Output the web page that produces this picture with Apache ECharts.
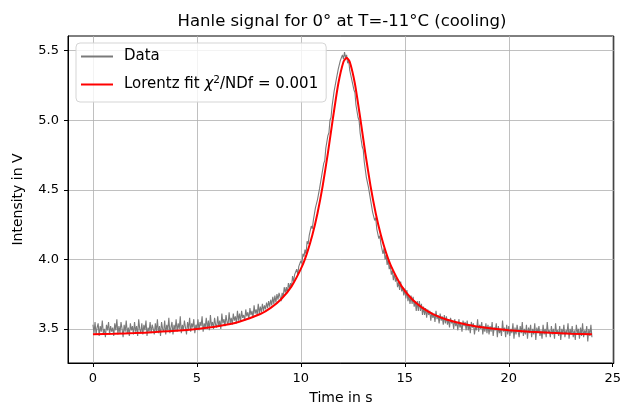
<!DOCTYPE html>
<html><head><meta charset="utf-8">
<script src="https://cdn.jsdelivr.net/npm/echarts@6/dist/echarts.min.js"></script>
<style>html,body{margin:0;padding:0;background:#fff}#c{width:624px;height:412px}</style>
</head><body><div id="c"></div>
<script>
// ---- data ----
const title = 'Hanle signal for 0° at T=-11°C (cooling)';
const xLabel = 'Time in s';
const yLabel = 'Intensity in V';
const xTicks = [0, 5, 10, 15, 20, 25];
const yTicks = [3.5, 4.0, 4.5, 5.0, 5.5];
const dataStart = 0.0;   // first sample time (s)
const dataStep = 0.05;   // sampling step (s)
const dataValues = [
3.53,3.47,3.55,3.46,3.51,3.54,3.45,3.52,3.48,3.56,3.47,3.50,3.44,3.53,3.49,3.55,3.46,3.52,3.48,3.51,
3.45,3.54,3.49,3.57,3.46,3.52,3.47,3.55,3.50,3.44,3.53,3.48,3.56,3.47,3.51,3.45,3.54,3.49,3.52,3.46,
3.55,3.48,3.52,3.45,3.57,3.50,3.47,3.54,3.46,3.53,3.49,3.56,3.45,3.51,3.48,3.55,3.47,3.53,3.50,3.46,
3.54,3.48,3.57,3.47,3.52,3.45,3.55,3.50,3.48,3.56,3.46,3.53,3.49,3.58,3.47,3.51,3.55,3.46,3.53,3.49,
3.57,3.48,3.54,3.50,3.59,3.47,3.53,3.49,3.56,3.51,3.46,3.55,3.50,3.58,3.48,3.54,3.51,3.57,3.47,3.53,
3.50,3.57,3.49,3.55,3.52,3.59,3.48,3.54,3.51,3.58,3.50,3.56,3.49,3.60,3.52,3.55,3.50,3.58,3.53,3.51,
3.59,3.52,3.56,3.50,3.61,3.54,3.57,3.52,3.60,3.55,3.53,3.62,3.54,3.58,3.53,3.61,3.56,3.59,3.54,3.63,
3.56,3.61,3.55,3.63,3.58,3.60,3.56,3.64,3.59,3.62,3.57,3.65,3.60,3.63,3.58,3.67,3.61,3.64,3.60,3.68,
3.61,3.66,3.62,3.68,3.63,3.67,3.64,3.69,3.65,3.70,3.66,3.71,3.67,3.73,3.68,3.74,3.69,3.75,3.71,3.76,
3.75,3.70,3.76,3.73,3.80,3.76,3.80,3.76,3.83,3.79,3.83,3.80,3.88,3.84,3.89,3.88,3.93,3.89,3.95,3.94,
3.99,3.97,4.04,4.02,4.07,4.04,4.13,4.11,4.17,4.16,4.24,4.22,4.28,4.28,4.37,4.36,4.43,4.43,4.51,4.52,
4.60,4.60,4.69,4.71,4.80,4.80,4.89,4.91,5.00,5.02,5.10,5.11,5.21,5.22,5.29,5.29,5.37,5.37,5.43,5.42,
5.47,5.44,5.49,5.45,5.47,5.41,5.43,5.36,5.36,5.29,5.30,5.22,5.20,5.11,5.10,5.02,5.00,4.91,4.90,4.81,
4.79,4.70,4.69,4.59,4.60,4.52,4.52,4.43,4.43,4.34,4.35,4.28,4.30,4.22,4.23,4.15,4.17,4.11,4.12,4.04,
4.08,4.00,4.03,3.96,4.00,3.93,3.96,3.89,3.92,3.85,3.90,3.84,3.87,3.80,3.84,3.78,3.84,3.77,3.80,3.74,
3.79,3.72,3.78,3.70,3.74,3.68,3.74,3.68,3.73,3.66,3.70,3.63,3.70,3.63,3.70,3.63,3.68,3.60,3.66,3.60,
3.65,3.58,3.64,3.60,3.63,3.56,3.62,3.58,3.61,3.55,3.63,3.57,3.60,3.54,3.61,3.56,3.59,3.53,3.60,3.54,
3.59,3.53,3.57,3.51,3.58,3.54,3.56,3.50,3.57,3.52,3.55,3.49,3.57,3.51,3.54,3.48,3.56,3.52,3.55,3.49,
3.56,3.49,3.53,3.47,3.55,3.51,3.54,3.46,3.52,3.49,3.57,3.48,3.53,3.50,3.55,3.46,3.52,3.48,3.54,3.47,
3.53,3.46,3.52,3.48,3.55,3.45,3.51,3.49,3.54,3.44,3.52,3.47,3.50,3.45,3.56,3.48,3.51,3.44,3.53,3.46,
3.52,3.45,3.50,3.47,3.54,3.43,3.51,3.46,3.53,3.48,3.44,3.52,3.47,3.55,3.45,3.50,3.46,3.53,3.43,3.51,
3.47,3.53,3.44,3.50,3.46,3.54,3.42,3.51,3.47,3.52,3.45,3.49,3.43,3.53,3.46,3.50,3.44,3.55,3.47,3.49,
3.44,3.52,3.46,3.50,3.43,3.54,3.47,3.49,3.45,3.52,3.42,3.50,3.46,3.53,3.44,3.49,3.47,3.54,3.43,3.50,
3.46,3.52,3.44,3.49,3.42,3.53,3.47,3.50,3.43,3.51,3.45,3.54,3.44,3.49,3.46,3.52,3.41,3.50,3.45,3.53,
3.44
];
const fitX = [0,1,2,3,4,5,6,7,8.05,8.55,9.05,9.55,10.05,10.3,10.55,10.8,11.05,11.3,11.55,11.8,12.05,12.2,12.35,12.6,12.85,13.1,13.35,13.6,13.85,14.1,14.35,14.85,15.35,15.85,16.35,17,18,19,20,21,22,23,24];
const fitY = [3.461,3.465,3.470,3.477,3.486,3.500,3.520,3.550,3.607,3.651,3.713,3.806,3.948,4.047,4.173,4.332,4.529,4.764,5.022,5.263,5.421,5.450,5.421,5.263,5.022,4.764,4.529,4.332,4.173,4.047,3.948,3.806,3.713,3.651,3.607,3.568,3.530,3.506,3.491,3.480,3.472,3.466,3.462];
const dataName = 'Data';
const fitName = 'Lorentz fit χ²/NDf = 0.001';

// ---- build ----
const dataPts = dataValues.map((v, i) => [+(dataStart + i * dataStep).toFixed(2), v]);
const fitPts = fitX.map((x, i) => [x, fitY[i]]);
const FONT = 'DejaVu Sans';
const gridCol = '#b0b0b0';

const chart = echarts.init(document.getElementById('c'), null, {renderer: 'canvas'});
chart.setOption({
  animation: false,
  backgroundColor: '#fff',
  title: {
    text: title, left: 337, top: 8, textAlign: 'center',
    textStyle: {fontFamily: FONT, fontSize: 16.5, fontWeight: 'normal', color: '#000'}
  },
  grid: {left: 68, right: 8, top: 36, bottom: 49, show: true, borderColor: '#000', borderWidth: 1, backgroundColor: 'transparent'},
  legend: {
    orient: 'vertical', left: 76, top: 43,
    backgroundColor: 'rgba(255,255,255,0.8)', borderColor: '#d5d5d5', borderWidth: 1, borderRadius: 4,
    padding: [6, 8, 10, 4], itemGap: 11, itemWidth: 32, itemHeight: 14,
    itemStyle: {opacity: 0},
    data: [dataName, fitName],
    formatter: function (n) {
      return n === fitName ? 'Lorentz fit {it|χ}{sup|2}/NDf = 0.001' : n;
    },
    textStyle: {
      fontFamily: FONT, fontSize: 15, color: '#000', padding: [0, 0, 0, 6],
      rich: {
        it: {fontFamily: FONT, fontSize: 15, fontStyle: 'italic', color: '#000'},
        sup: {fontFamily: FONT, fontSize: 10.5, color: '#000', verticalAlign: 'top', padding: [0, 0, 8, 0]}
      }
    }
  },
  xAxis: {
    type: 'value', min: -1.2, max: 25.05,
    name: xLabel, nameLocation: 'middle', nameGap: 28,
    nameTextStyle: {fontFamily: FONT, fontSize: 14, color: '#000'},
    axisLine: {show: true, onZero: false, lineStyle: {color: '#000', width: 1}},
    axisTick: {show: true, length: 4, inside: false, lineStyle: {color: '#000'}, customValues: xTicks},
    axisLabel: {fontFamily: FONT, fontSize: 13, color: '#000', margin: 9, customValues: xTicks},
    splitLine: {show: true, lineStyle: {color: gridCol, width: 0.8}}
  },
  yAxis: {
    type: 'value', min: 3.255, max: 5.606,
    name: yLabel, nameLocation: 'middle', nameGap: 43,
    nameTextStyle: {fontFamily: FONT, fontSize: 14, color: '#000'},
    axisLine: {show: true, onZero: false, lineStyle: {color: '#000', width: 1}},
    axisTick: {show: true, length: 4, inside: false, lineStyle: {color: '#000'}, customValues: yTicks},
    axisLabel: {fontFamily: FONT, fontSize: 13, color: '#000', margin: 9, customValues: yTicks,
      formatter: v => v.toFixed(1)},
    splitLine: {show: true, lineStyle: {color: gridCol, width: 0.8}}
  },
  series: [
    {name: dataName, type: 'line', data: dataPts, showSymbol: false, symbol: 'none',
     lineStyle: {color: '#7a7a7a', width: 1.1}, itemStyle: {color: '#7a7a7a'}, z: 2},
    {name: fitName, type: 'line', data: fitPts, showSymbol: false, symbol: 'none', smooth: 0.2,
     lineStyle: {color: '#ff0000', width: 2}, itemStyle: {color: '#ff0000'}, z: 3}
  ]
});
</script></body></html>
